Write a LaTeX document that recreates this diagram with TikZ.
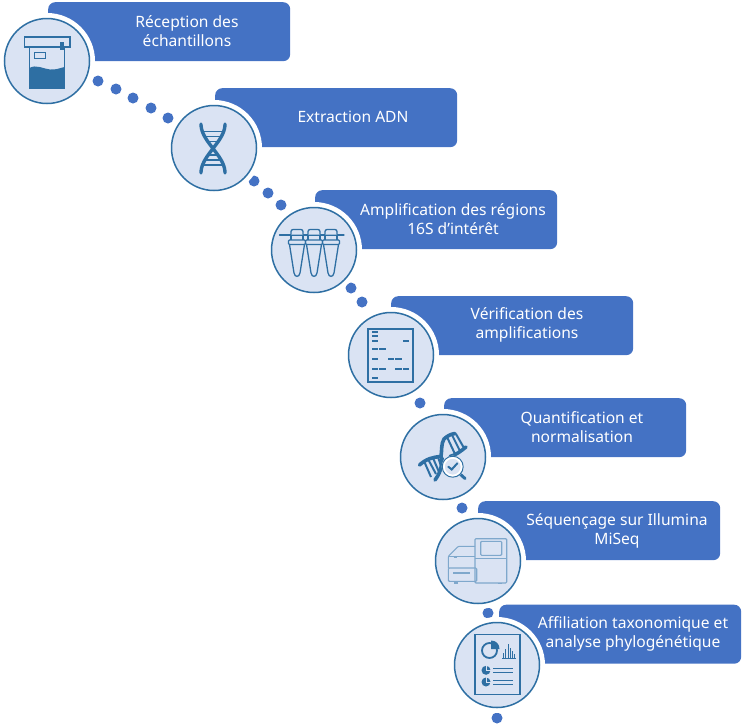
\documentclass[tikz,border=0pt]{standalone}
\usepackage{fontspec}
\setmainfont{Noto Sans}
\usepackage{tikz}
\usetikzlibrary{positioning}
\definecolor{barblue}{HTML}{4472C4}
\definecolor{discfill}{HTML}{DAE3F3}
\definecolor{iconblue}{HTML}{2E6FA3}
\definecolor{paleblue}{HTML}{7FA8CC}
\tikzset{
  stepbar/.style={draw=none, fill=barblue, rounded corners=7pt, minimum width=242pt, minimum height=59pt, inner sep=0pt, anchor=north west},
  steptext/.style={text=white, font=\fontsize{15.6}{19}\selectfont, align=center, inner sep=0pt},
  stepdisc/.style={circle, draw=iconblue, line width=1.5pt, fill=discfill, minimum size=85pt, inner sep=0pt},
  halo/.style={circle, fill=white, minimum size=96pt, inner sep=0pt},
  linkdot/.style={circle, fill=barblue, minimum size=11pt, inner sep=0pt},
  ico/.style={draw=iconblue, line width=1.3pt},
  pale/.style={draw=paleblue, line width=1.1pt, rounded corners=1pt}
}
\begin{document}
\begin{tikzpicture}[x=1pt,y=-1pt]
  \useasboundingbox (0,0) rectangle (750,724);
  % dots
  \foreach \x/\y [count=\i] in {98/81,116/89,133/98,151/108,168/118,254/181,268/193,281/205,351/288,362/302,420/403,462/508,488/613,497/718} {\node[linkdot] (dot\i) at (\x,\y) {};}
  % bars
  \node[stepbar] (bar1) at (48,2) {};
  \node[stepbar] (bar2) at (215,88) {};
  \node[stepbar] (bar3) at (315,190) {};
  \node[stepbar] (bar4) at (391,296) {};
  \node[stepbar] (bar5) at (444,398) {};
  \node[stepbar] (bar6) at (478,501) {};
  \node[stepbar] (bar7) at (499,604.5) {};
  \node[steptext] (txt1) at (187,31) {Réception des\\échantillons};
  \node[steptext] (txt2) at (353,117) {Extraction ADN};
  \node[steptext] (txt3) at (453,219) {Amplification des régions\\16S d’intérêt};
  \node[steptext] (txt4) at (527,324.5) {Vérification des\\amplifications};
  \node[steptext] (txt5) at (582,427) {Quantification et\\normalisation};
  \node[steptext] (txt6) at (617,530.5) {Séquençage sur Illumina\\MiSeq};
  \node[steptext] (txt7) at (633,633.5) {Affiliation taxonomique et\\analyse phylogénétique};
  % discs
  \foreach \n/\x/\y in {recv/47/61,extr/214/148,ampl/314/250,veri/391/355,quant/443/457,seq/478/561,affil/497/665} {
    \node[halo] at (\x,\y) {};
    \node[stepdisc] (\n) at (\x,\y) {};
  }
  % sample pot
  \draw[ico] (24.5,37) rectangle (70,47);
  \draw[ico] (29.5,47) -- (29.5,88) -- (64.5,88) -- (64.5,47);
  \draw[ico, line width=1pt] (34,52) rectangle (45,58);
  \fill[iconblue] (59.5,42) rectangle (64,50);
  \fill[iconblue] (29.5,68) .. controls (36,64) and (44,69) .. (50,69.5) .. controls (56,70) and (60,68) .. (64.5,67) -- (64.5,88) -- (29.5,88) -- cycle;
  % helix
  \draw[iconblue, line width=3.4pt, line cap=round, domain=0:180, samples=40] plot ({213+12*cos(\x)},{124+\x*49/180});
  \draw[iconblue, line width=3.4pt, line cap=round, domain=0:180, samples=40] plot ({213-12*cos(\x)},{124+\x*49/180});
  \foreach \y/\w in {131.5/10,136.5/8,141.5/5,155/5,160/8,165/10} {\draw[iconblue, line width=1.5pt] (213-\w,\y) -- (213+\w,\y);}
  % strip of tubes
  \draw[ico, line cap=round] (279.5,235) -- (344,235);
  \foreach \x in {297,314,331} {
    \draw[ico, fill=discfill, rounded corners=2pt] (\x-6,234.5) -- (\x-6,229.5) -- (\x+6,229.5) -- (\x+6,234.5);
    \draw[ico] (\x-6,235) -- (\x-6,240) (\x+6,235) -- (\x+6,240);
    \draw[ico, rounded corners=1pt] (\x-8.5,240) rectangle (\x+8.5,244.5);
    \draw[ico] (\x-7.5,244.5) -- (\x-3,273) .. controls (\x-2,277.5) and (\x+2,277.5) .. (\x+3,273) -- (\x+7.5,244.5);
  }
  % gel
  \draw[ico] (368,329) rectangle (413,382);
  \foreach \a/\b/\y in {372/378/332,372/378/336,372/378/341,403/409/341,372/378/349,379/386/349,372/378/359,388/394/359,395/402/359,372/378/369,379/386/369,395/402/369,403/409/369,372/378/378} {\draw[ico] (\a,\y) -- (\b,\y);}
  % helix with lens
  \draw[iconblue, line width=3.6pt, line cap=round] (419.5,465) .. controls (426,459) and (433,457) .. (441,456.5) .. controls (442,450) and (441,444) .. (444,439) .. controls (447,436) and (451,434) .. (455,433.5);
  \draw[iconblue, line width=3.6pt, line cap=round] (435,480) .. controls (439,475) and (442,468) .. (442,458) (450,456.5) .. controls (456,455) and (461,451) .. (466,447);
  \foreach \a/\b/\c/\d in {424/461/431/477,428/459/436/474,433/458/439/472,438/457/441/466,447/437/455/454,452/435/460/451,456/434/464/448} {\draw[iconblue, line width=2pt] (\a,\b) -- (\c,\d);}
  \draw[iconblue, line width=3pt, line cap=round] (460,474) -- (465,478.5);
  \draw[draw=white, line width=3pt, fill=discfill] (452.7,466.7) circle (9.5);
  \draw[iconblue, line width=1pt] (452.7,466.7) circle (10.5);
  \draw[iconblue, line width=2pt, line cap=round] (448.3,466.7) -- (451.7,469.5) -- (457.3,463.3);
  % sequencer
  \draw[pale] (475,538.7) rectangle (506.7,583);
  \draw[pale] (480.7,541.3) rectangle (501.7,555.3);
  \draw[pale] (475,558.7) -- (506.7,558.7);
  \draw[pale] (448.3,568) -- (448.3,556.3) -- (458.3,546.3) -- (475,546.3);
  \draw[pale] (448.3,556.3) -- (475,556.3);
  \draw[pale] (448.3,568) rectangle (476.7,581.3);
  \draw[pale, line width=1.4pt] (453.3,573) -- (470,573);
  \draw[pale] (454,583) -- (458,583) (498,583.5) -- (502,583.5) (453.5,557.5) -- (457,557.5);
  % report
  \draw[ico] (475,634.7) rectangle (520,694.7);
  \draw[ico, line width=1.8pt] (489.5,650.5) circle (7.5);
  \fill[iconblue] (491,649) -- (491,640.5) .. controls (496,640.5) and (499.5,644) .. (499.5,649) -- cycle;
  \foreach \x/\y in {503.5/6,505.8/10,508/15,510.3/11,512.5/8,514.5/5} {\draw[iconblue, line width=1pt] (\x,658.7) -- (\x,658.7-\y);}
  \draw[iconblue, line width=1pt] (502,658.7) -- (515.5,658.7);
  \foreach \y in {670.3,682} {
    \fill[iconblue] (486,\y) circle (4.5);
    \draw[discfill, line width=0.8pt] (486,\y) -- (486,\y-5) (486,\y) -- (491,\y);
  }
  \foreach \y in {668,672,680.3,684.3} {\draw[iconblue, line width=1pt] (493.3,\y) -- (513.3,\y);}
\end{tikzpicture}
\end{document}
